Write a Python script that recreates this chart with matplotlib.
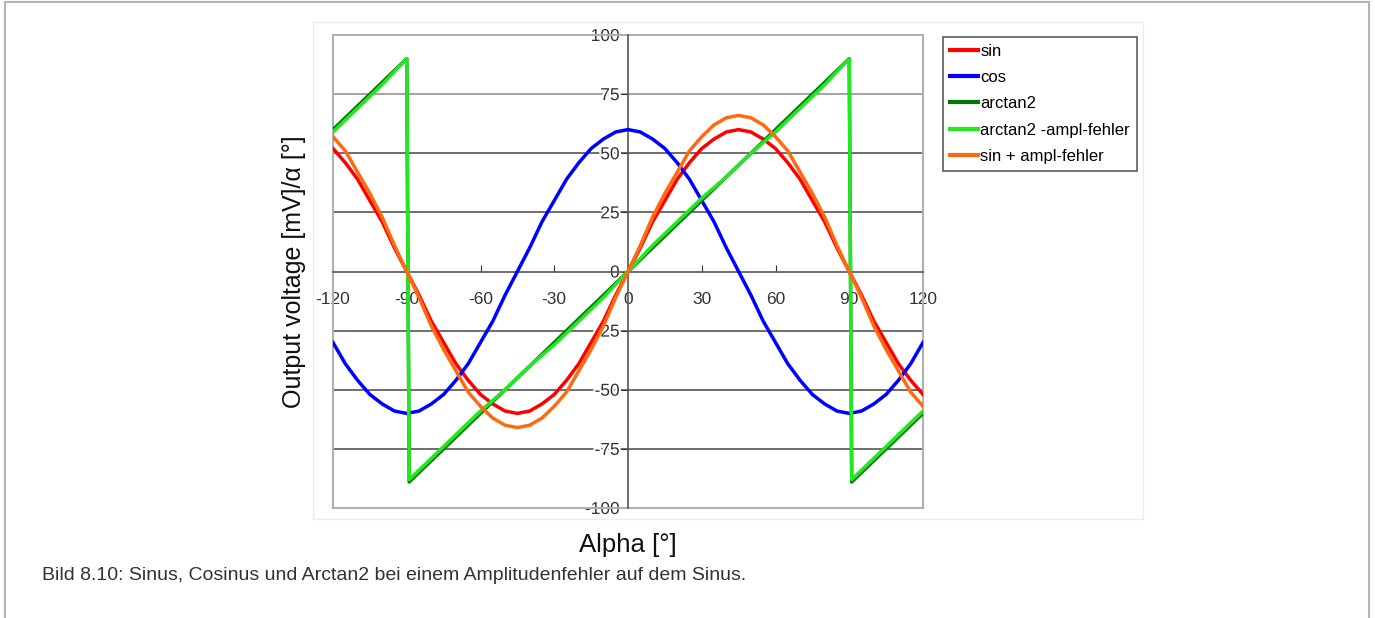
import matplotlib
matplotlib.use("Agg")
import matplotlib.pyplot as plt
import matplotlib.patheffects as pe
from matplotlib.patches import Rectangle
from matplotlib.lines import Line2D

plt.rcParams["font.family"] = ["Liberation Sans", "DejaVu Sans"]
plt.rcParams["axes.unicode_minus"] = False

# angle axis, 5 degree steps
alpha = list(range(-120, 125, 5))

sin_mv = [52, 46, 39, 30, 21, 10, 0, -10, -21, -30, -39, -46, -52, -56, -59, -60,
          -59, -56, -52, -46, -39, -30, -21, -10, 0,
          10, 21, 30, 39, 46, 52, 56, 59, 60, 59, 56, 52, 46, 39, 30, 21, 10, 0,
          -10, -21, -30, -39, -46, -52]
cos_mv = [-30, -39, -46, -52, -56, -59, -60, -59, -56, -52, -46, -39, -30, -21, -10, 0,
          10, 21, 30, 39, 46, 52, 56, 59, 60,
          59, 56, 52, 46, 39, 30, 21, 10, 0, -10, -21, -30, -39, -46, -52, -56, -59, -60,
          -59, -56, -52, -46, -39, -30]
sin_err_mv = [57, 51, 42, 33, 23, 11, 0, -11, -23, -33, -42, -51, -57, -62, -65, -66,
              -65, -62, -57, -51, -42, -33, -23, -11, 0,
              11, 23, 33, 42, 51, 57, 62, 65, 66, 65, 62, 57, 51, 42, 33, 23, 11, 0,
              -11, -23, -33, -42, -51, -57]

# arctan2 series (with the wrap-around jumps at +-90)
atan_alpha = [-120, -110, -100, -90, -89, -80, -70, -60, -50, -40, -30, -20, -10, 0,
              10, 20, 30, 40, 50, 60, 70, 80, 90, 91, 100, 110, 120]
atan_deg = [60, 70, 80, 90, -89, -80, -70, -60, -50, -40, -30, -20, -10, 0,
            10, 20, 30, 40, 50, 60, 70, 80, 90, -89, -80, -70, -60]
atan_err_deg = [59, 69, 79, 90, -88, -79, -69, -59, -50, -40, -31, -21, -11, 0,
                11, 21, 31, 40, 50, 59, 69, 79, 90, -88, -79, -69, -59]

x_ticks = [-120, -90, -60, -30, 0, 30, 60, 90, 120]
y_ticks = [-100, -75, -50, -25, 0, 25, 50, 75, 100]

fig = plt.figure(figsize=(13.75, 6.18), dpi=100)
ax = fig.add_axes([333 / 1375, 1 - 508 / 618, 590 / 1375, 473 / 618])

# faint chart box and outer page frame
fig.patches.append(Rectangle((313 / 1375, 1 - 519 / 618), 830 / 1375, 497 / 618,
                             transform=fig.transFigure, fill=False,
                             edgecolor="#ececec", lw=1))
for xs, ys in [([5 / 1375, 5 / 1375], [0, 1 - 2 / 618]),
               ([5 / 1375, 1369 / 1375], [1 - 2 / 618, 1 - 2 / 618]),
               ([1369 / 1375, 1369 / 1375], [0, 1 - 2 / 618])]:
    fig.lines.append(Line2D(xs, ys, transform=fig.transFigure, color="#b5b5b5", lw=1.5))

for y in y_ticks[1:-1]:
    if y == 75:
        ax.axhline(y, color="#8a8a8a", lw=1.1, zorder=1)
    elif y != 0:
        ax.axhline(y, color="#555555", lw=1.2, zorder=1)

lw = 2.5
ax.plot(alpha, sin_mv, color="#ff0000", lw=lw, label="sin", zorder=3)
ax.plot(alpha, cos_mv, color="#0000ff", lw=lw, label="cos", zorder=3)
ax.plot(atan_alpha, atan_deg, color="#007800", lw=lw, label="arctan2", zorder=3)
ax.plot(atan_alpha, atan_err_deg, color="#22e822", lw=lw, label="arctan2 -ampl-fehler", zorder=3)
ax.plot(alpha, sin_err_mv, color="#ff6a10", lw=lw, label="sin + ampl-fehler", zorder=3)

ax.set_xlim(-120, 120)
ax.set_ylim(-100, 100)

ax.spines["left"].set_position(("data", 0))
ax.spines["bottom"].set_position(("data", 0))
for s in ["left", "bottom"]:
    ax.spines[s].set_color("#555555")
    ax.spines[s].set_linewidth(1.2)
    ax.spines[s].set_zorder(2)
ax.spines["top"].set_visible(False)
ax.spines["right"].set_visible(False)
ax.add_patch(Rectangle((0, 0), 1, 1, transform=ax.transAxes, fill=False,
                       edgecolor="#b0b0b0", lw=1.5, clip_on=False, zorder=2))

ax.set_xticks(x_ticks)
ax.set_yticks(y_ticks)
ax.tick_params(axis="x", direction="in", length=5, pad=15, labelsize=12.5,
               colors="#333333")
ax.tick_params(axis="y", direction="out", length=5, pad=1, labelsize=12.5,
               colors="#333333")
for lab in ax.get_yticklabels():
    lab.set_path_effects([pe.withStroke(linewidth=3, foreground="white")])

ax.set_xlabel("Alpha [°]", fontsize=18.5, color="#111111")
ax.xaxis.set_label_coords(0.5, -0.052)
ax.set_ylabel("Output voltage [mV]/α [°]", fontsize=18, color="#111111")
ax.yaxis.set_label_coords(-0.045, 0.5)

leg = ax.legend(loc="upper left", bbox_to_anchor=(943 / 1375, 1 - 37 / 618),
                bbox_transform=fig.transFigure, fontsize=12, frameon=True,
                fancybox=False, edgecolor="#333333", handlelength=1.7,
                handletextpad=0.15, labelspacing=0.68, borderpad=0.4,
                borderaxespad=0)
leg.get_frame().set_linewidth(1.2)
for h in leg.get_lines():
    h.set_linewidth(3)

fig.text(42 / 1375, 1 - 575 / 618,
         "Bild 8.10: Sinus, Cosinus und Arctan2 bei einem Amplitudenfehler auf dem Sinus.",
         fontsize=14, color="#333333", va="center", ha="left")

fig.savefig("out.png", dpi=100)
